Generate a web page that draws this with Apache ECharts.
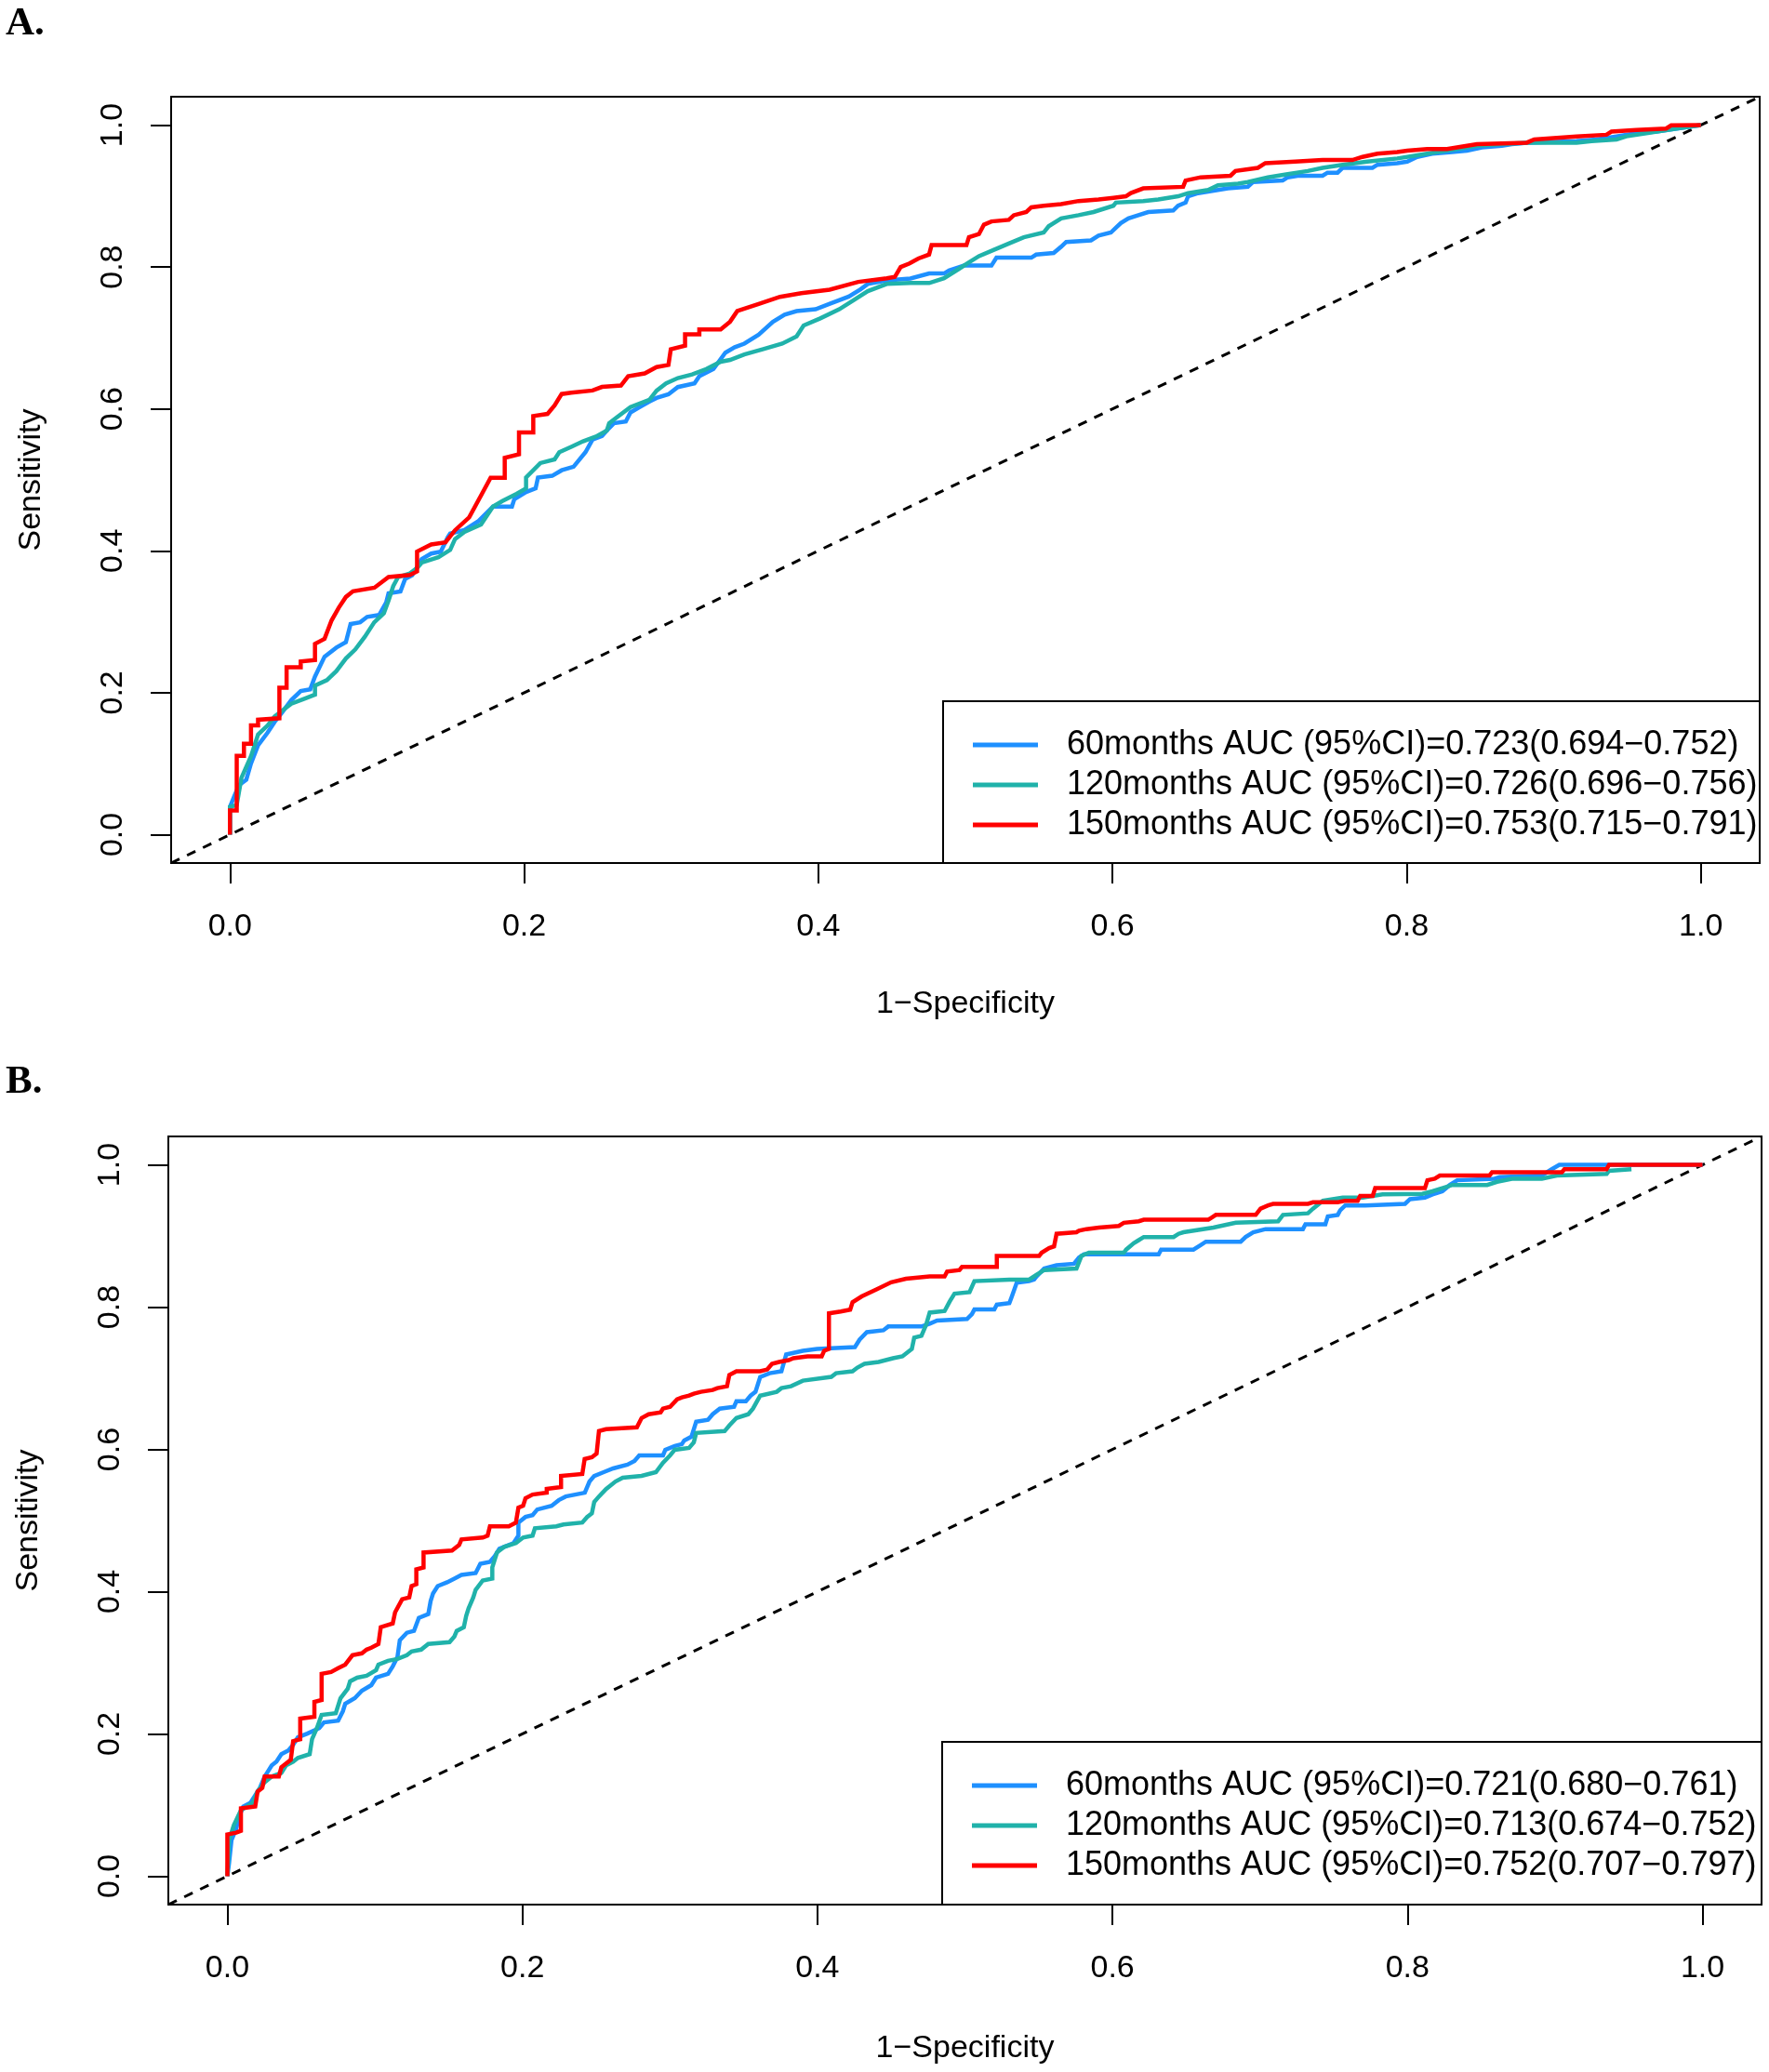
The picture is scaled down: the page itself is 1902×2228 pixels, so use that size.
<!DOCTYPE html>
<html>
<head>
<meta charset="utf-8">
<script src="https://cdn.jsdelivr.net/npm/echarts@6/dist/echarts.min.js"></script>
<style>
html,body{margin:0;padding:0;background:#fff;}
#chart{width:1902px;height:2228px;}
</style>
</head>
<body>
<div id="chart"></div>
<script>
// ---------- data ----------
const tickValues = [0, 0.2, 0.4, 0.6, 0.8, 1.0];
const axisMin = -0.04, axisMax = 1.04;
const panelLabels = ['A.', 'B.'];
const xTitle = '1\u2212Specificity';
const yTitle = 'Sensitivity';
const legendA = [
  '60months AUC (95%CI)=0.723(0.694\u22120.752)',
  '120months AUC (95%CI)=0.726(0.696\u22120.756)',
  '150months AUC (95%CI)=0.753(0.715\u22120.791)'
];
const legendB = [
  '60months AUC (95%CI)=0.721(0.680\u22120.761)',
  '120months AUC (95%CI)=0.713(0.674\u22120.752)',
  '150months AUC (95%CI)=0.752(0.707\u22120.797)'
];
const refLine = [[-0.04, -0.04], [1.04, 1.04]];

const blueA = [[0,0],[0,0.039],[0.0030,0.0545],[0.0062,0.0698],[0.0111,0.0774],[0.0143,0.1004],[0.0191,0.1259],[0.0256,0.1438],[0.0304,0.1590],[0.0353,0.1718],[0.0417,0.1896],[0.0481,0.2024],[0.0546,0.2049],[0.0578,0.2228],[0.0643,0.2508],[0.0723,0.2636],[0.0788,0.2713],[0.0820,0.2968],[0.0885,0.2993],[0.0933,0.3069],[0.1014,0.3095],[0.1062,0.3273],[0.1078,0.3401],[0.1159,0.3426],[0.1191,0.3605],[0.1239,0.3656],[0.1304,0.3885],[0.1368,0.3962],[0.1433,0.3987],[0.1481,0.4191],[0.1497,0.4242],[0.1594,0.4293],[0.1691,0.4421],[0.1788,0.4624],[0.1917,0.4624],[0.1933,0.4727],[0.2013,0.4829],[0.2078,0.4880],[0.2094,0.5033],[0.2191,0.5058],[0.2255,0.5135],[0.2336,0.5186],[0.2417,0.5390],[0.2465,0.5568],[0.2529,0.5619],[0.2562,0.5696],[0.2610,0.5798],[0.2691,0.5823],[0.2723,0.5951],[0.2787,0.6027],[0.2852,0.6104],[0.2900,0.6155],[0.2981,0.6206],[0.3045,0.6308],[0.3158,0.6359],[0.3191,0.6461],[0.3287,0.6562],[0.3368,0.6792],[0.3432,0.6869],[0.3497,0.6920],[0.3594,0.7047],[0.3691,0.7226],[0.3771,0.7328],[0.3852,0.7379],[0.3981,0.7404],[0.4078,0.7481],[0.4207,0.7583],[0.4287,0.7685],[0.4336,0.7761],[0.4465,0.7812],[0.4626,0.7838],[0.4754,0.7909],[0.4855,0.7909],[0.4889,0.7953],[0.4991,0.8020],[0.5177,0.8020],[0.5211,0.8131],[0.5448,0.8131],[0.5481,0.8175],[0.5600,0.8197],[0.5651,0.8286],[0.5685,0.8353],[0.5854,0.8375],[0.5905,0.8442],[0.5989,0.8486],[0.6023,0.8553],[0.6057,0.8619],[0.6108,0.8686],[0.6176,0.8731],[0.6243,0.8775],[0.6413,0.8797],[0.6446,0.8864],[0.6497,0.8908],[0.6514,0.8997],[0.6582,0.9041],[0.6717,0.9086],[0.6785,0.9108],[0.6920,0.9130],[0.6954,0.9197],[0.7157,0.9219],[0.7191,0.9264],[0.7259,0.9286],[0.7428,0.9286],[0.7462,0.9330],[0.7530,0.9330],[0.7564,0.9397],[0.7767,0.9397],[0.7801,0.9441],[0.7936,0.9464],[0.8004,0.9486],[0.8071,0.9552],[0.8173,0.9597],[0.8308,0.9619],[0.8410,0.9641],[0.8512,0.9686],[0.8647,0.9708],[0.8715,0.9730],[0.8817,0.9752],[0.9155,0.9775],[0.9290,0.9797],[0.9426,0.9841],[0.9561,0.9886],[0.9697,0.9908],[1,1]];

const tealA = [[0,0],[0,0.039],[0.0046,0.0418],[0.0078,0.0800],[0.0143,0.1106],[0.0191,0.1412],[0.0256,0.1539],[0.0304,0.1667],[0.0369,0.1769],[0.0417,0.1845],[0.0514,0.1922],[0.0578,0.1973],[0.0578,0.2100],[0.0659,0.2177],[0.0723,0.2304],[0.0788,0.2483],[0.0852,0.2610],[0.0917,0.2789],[0.0981,0.2993],[0.1046,0.3120],[0.1078,0.3299],[0.1110,0.3503],[0.1143,0.3630],[0.1223,0.3681],[0.1272,0.3758],[0.1304,0.3834],[0.1417,0.3911],[0.1497,0.4013],[0.1530,0.4166],[0.1594,0.4268],[0.1707,0.4370],[0.1788,0.4624],[0.1852,0.4701],[0.1949,0.4803],[0.2013,0.4880],[0.2013,0.5033],[0.2110,0.5237],[0.2207,0.5288],[0.2239,0.5390],[0.2320,0.5466],[0.2400,0.5543],[0.2497,0.5619],[0.2562,0.5696],[0.2578,0.5798],[0.2626,0.5874],[0.2723,0.6027],[0.2852,0.6129],[0.2900,0.6257],[0.2965,0.6359],[0.3045,0.6435],[0.3142,0.6486],[0.3239,0.6562],[0.3336,0.6665],[0.3400,0.6690],[0.3497,0.6767],[0.3626,0.6843],[0.3755,0.6920],[0.3852,0.7022],[0.3900,0.7175],[0.4013,0.7276],[0.4142,0.7404],[0.4239,0.7532],[0.4336,0.7659],[0.4465,0.7761],[0.4626,0.7775],[0.4754,0.7775],[0.4855,0.7842],[0.4957,0.7975],[0.5024,0.8064],[0.5092,0.8153],[0.5194,0.8242],[0.5295,0.8331],[0.5397,0.8420],[0.5532,0.8486],[0.5566,0.8575],[0.5651,0.8686],[0.5769,0.8731],[0.5871,0.8775],[0.6006,0.8864],[0.6023,0.8908],[0.6209,0.8930],[0.6311,0.8953],[0.6446,0.8997],[0.6514,0.9041],[0.6650,0.9086],[0.6717,0.9153],[0.6853,0.9175],[0.6920,0.9197],[0.7056,0.9264],[0.7191,0.9308],[0.7327,0.9353],[0.7428,0.9397],[0.7564,0.9441],[0.7733,0.9486],[0.7936,0.9530],[0.8071,0.9575],[0.8207,0.9619],[0.8342,0.9664],[0.8478,0.9708],[0.8647,0.9730],[0.8817,0.9752],[0.9155,0.9752],[0.9257,0.9775],[0.9426,0.9797],[0.9493,0.9841],[0.9629,0.9886],[0.9832,0.9952],[1,1]];

const redA = [[0,0],[0,0.034],[0.0046,0.034],[0.0046,0.111],[0.0095,0.111],[0.0095,0.128],[0.0143,0.128],[0.0143,0.154],[0.0191,0.154],[0.0191,0.162],[0.0336,0.164],[0.0336,0.207],[0.0385,0.207],[0.0385,0.236],[0.0481,0.236],[0.0481,0.244],[0.0578,0.246],[0.0578,0.269],[0.0643,0.276],[0.0691,0.302],[0.0740,0.320],[0.0788,0.335],[0.0836,0.343],[0.0982,0.348],[0.1078,0.363],[0.1223,0.366],[0.1272,0.371],[0.1272,0.399],[0.1368,0.409],[0.1465,0.412],[0.1530,0.429],[0.1626,0.447],[0.1707,0.478],[0.1772,0.503],[0.1868,0.503],[0.1868,0.531],[0.1965,0.536],[0.1965,0.567],[0.2062,0.567],[0.2062,0.590],[0.2159,0.593],[0.2207,0.605],[0.2255,0.621],[0.2320,0.623],[0.2465,0.626],[0.2529,0.631],[0.2658,0.633],[0.2707,0.646],[0.2820,0.650],[0.2900,0.659],[0.2981,0.662],[0.2997,0.684],[0.3094,0.689],[0.3094,0.705],[0.3191,0.705],[0.3191,0.712],[0.3336,0.712],[0.3400,0.723],[0.3449,0.738],[0.3594,0.748],[0.3739,0.758],[0.3884,0.763],[0.4077,0.768],[0.4271,0.779],[0.4465,0.784],[0.452,0.786],[0.456,0.800],[0.462,0.805],[0.468,0.812],[0.4753,0.8176],[0.4770,0.8308],[0.5007,0.8308],[0.5024,0.8419],[0.5092,0.8464],[0.5126,0.8597],[0.5177,0.8642],[0.5295,0.8664],[0.5329,0.8730],[0.5414,0.8775],[0.5448,0.8841],[0.5532,0.8864],[0.5650,0.8886],[0.5769,0.8930],[0.5905,0.8953],[0.6006,0.8975],[0.6091,0.8997],[0.6125,0.9042],[0.6209,0.9108],[0.6480,0.9130],[0.6497,0.9219],[0.6599,0.9264],[0.6802,0.9286],[0.6836,0.9353],[0.6988,0.9397],[0.7039,0.9464],[0.7242,0.9486],[0.7428,0.9508],[0.7631,0.9508],[0.7699,0.9552],[0.7801,0.9597],[0.7936,0.9619],[0.8004,0.9641],[0.8139,0.9663],[0.8274,0.9663],[0.8410,0.9708],[0.8478,0.9730],[0.8816,0.9752],[0.8867,0.9797],[0.9155,0.9841],[0.9358,0.9864],[0.9392,0.9908],[0.9561,0.9930],[0.9764,0.9952],[0.9798,0.9996],[1,1]];

const blueB = [[0,0],[0.0012,0.0192],[0.0028,0.0507],[0.0060,0.0664],[0.0076,0.0822],[0.0108,0.0979],[0.0157,0.1032],[0.0189,0.1137],[0.0221,0.1242],[0.0253,0.1400],[0.0269,0.1452],[0.0301,0.1557],[0.0333,0.1610],[0.0366,0.1715],[0.0414,0.1767],[0.0446,0.1846],[0.0478,0.1951],[0.0542,0.2004],[0.0623,0.2082],[0.0655,0.2161],[0.0751,0.2187],[0.0783,0.2319],[0.0799,0.2424],[0.0864,0.2502],[0.0912,0.2607],[0.0976,0.2686],[0.1008,0.2791],[0.1089,0.2844],[0.1121,0.2949],[0.1153,0.3080],[0.1169,0.3317],[0.1217,0.3422],[0.1265,0.3448],[0.1298,0.3631],[0.1362,0.3684],[0.1378,0.3868],[0.1394,0.3973],[0.1426,0.4078],[0.1490,0.4131],[0.1539,0.4183],[0.1587,0.4236],[0.1683,0.4262],[0.1715,0.4393],[0.1780,0.4419],[0.1812,0.4498],[0.1844,0.4603],[0.1940,0.4682],[0.1973,0.4787],[0.1973,0.4971],[0.2021,0.5050],[0.2069,0.5076],[0.2101,0.5155],[0.2198,0.5207],[0.2246,0.5286],[0.2294,0.5338],[0.2423,0.5391],[0.2455,0.5549],[0.2487,0.5627],[0.2551,0.5680],[0.2615,0.5732],[0.2712,0.5785],[0.2760,0.5837],[0.2792,0.5916],[0.2953,0.5916],[0.2969,0.5995],[0.3033,0.6047],[0.3081,0.6074],[0.3097,0.6126],[0.3146,0.6179],[0.3178,0.6389],[0.3258,0.6415],[0.3290,0.6494],[0.3338,0.6573],[0.3435,0.6599],[0.3451,0.6678],[0.3515,0.6678],[0.3547,0.6756],[0.3580,0.6809],[0.3612,0.7019],[0.3676,0.7071],[0.3756,0.7098],[0.3788,0.7334],[0.3901,0.7387],[0.3997,0.7413],[0.4254,0.7439],[0.4286,0.7544],[0.4335,0.7649],[0.4447,0.7675],[0.4480,0.7728],[0.4705,0.7728],[0.4761,0.7768],[0.4811,0.7812],[0.5014,0.7834],[0.5047,0.7901],[0.5064,0.7967],[0.5199,0.7967],[0.5216,0.8034],[0.5301,0.8056],[0.5317,0.8145],[0.5351,0.8344],[0.5435,0.8366],[0.5469,0.8388],[0.5486,0.8433],[0.5537,0.8543],[0.5621,0.8588],[0.5739,0.8610],[0.5773,0.8699],[0.5807,0.8743],[0.6313,0.8743],[0.6330,0.8809],[0.6549,0.8809],[0.6600,0.8876],[0.6633,0.8920],[0.6869,0.8920],[0.6903,0.8987],[0.6954,0.9053],[0.7038,0.9097],[0.7291,0.9097],[0.7308,0.9164],[0.7443,0.9164],[0.7460,0.9275],[0.7527,0.9297],[0.7544,0.9363],[0.7578,0.9430],[0.7713,0.9430],[0.7983,0.9452],[0.8017,0.9518],[0.8118,0.9541],[0.8169,0.9585],[0.8236,0.9629],[0.8287,0.9718],[0.8337,0.9784],[0.8590,0.9806],[0.8624,0.9828],[0.8911,0.9851],[0.8978,0.9939],[0.9029,1.0],[1,1]];

const tealB = [[0,0],[0.0012,0.0507],[0.0044,0.0717],[0.0092,0.0927],[0.0173,0.1032],[0.0205,0.1189],[0.0253,0.1321],[0.0301,0.1400],[0.0366,0.1452],[0.0398,0.1557],[0.0446,0.1610],[0.0478,0.1662],[0.0558,0.1715],[0.0574,0.1925],[0.0607,0.2082],[0.0639,0.2266],[0.0735,0.2292],[0.0767,0.2502],[0.0816,0.2634],[0.0832,0.2739],[0.0880,0.2791],[0.0944,0.2818],[0.1008,0.2896],[0.1024,0.2975],[0.1089,0.3028],[0.1153,0.3054],[0.1217,0.3106],[0.1249,0.3159],[0.1314,0.3185],[0.1362,0.3264],[0.1506,0.3290],[0.1539,0.3369],[0.1555,0.3448],[0.1603,0.3500],[0.1619,0.3658],[0.1635,0.3763],[0.1667,0.3920],[0.1683,0.4025],[0.1731,0.4157],[0.1796,0.4183],[0.1796,0.4341],[0.1828,0.4551],[0.1876,0.4629],[0.1956,0.4682],[0.2005,0.4761],[0.2069,0.4787],[0.2085,0.4892],[0.2230,0.4918],[0.2278,0.4944],[0.2406,0.4971],[0.2439,0.5050],[0.2471,0.5102],[0.2487,0.5260],[0.2519,0.5338],[0.2567,0.5443],[0.2631,0.5548],[0.2680,0.5601],[0.2808,0.5627],[0.2905,0.5680],[0.2953,0.5811],[0.3001,0.5916],[0.3033,0.5995],[0.3130,0.6021],[0.3162,0.6100],[0.3178,0.6231],[0.3371,0.6257],[0.3403,0.6336],[0.3451,0.6441],[0.3531,0.6494],[0.3563,0.6573],[0.3612,0.6756],[0.3724,0.6809],[0.3756,0.6861],[0.3821,0.6888],[0.3901,0.6966],[0.4094,0.7019],[0.4126,0.7071],[0.4238,0.7098],[0.4271,0.7150],[0.4319,0.7203],[0.4415,0.7229],[0.4512,0.7282],[0.4576,0.7308],[0.4640,0.7413],[0.4656,0.7570],[0.4705,0.7597],[0.4737,0.7754],[0.4761,0.7923],[0.4862,0.7945],[0.4896,0.8078],[0.4929,0.8189],[0.5031,0.8211],[0.5064,0.8366],[0.5301,0.8388],[0.5435,0.8388],[0.5486,0.8455],[0.5537,0.8521],[0.5756,0.8543],[0.5790,0.8721],[0.5840,0.8765],[0.6077,0.8765],[0.6093,0.8809],[0.6144,0.8898],[0.6178,0.8942],[0.6212,0.8986],[0.6414,0.8986],[0.6448,0.9031],[0.6481,0.9053],[0.6684,0.9119],[0.6785,0.9164],[0.6836,0.9186],[0.7123,0.9208],[0.7156,0.9297],[0.7325,0.9319],[0.7359,0.9385],[0.7426,0.9496],[0.7561,0.9541],[0.7696,0.9541],[0.7831,0.9585],[0.8101,0.9594],[0.8169,0.9629],[0.8236,0.9673],[0.8304,0.9718],[0.8540,0.9718],[0.8607,0.9762],[0.8708,0.9806],[0.8911,0.9806],[0.9012,0.9851],[0.9350,0.9873],[0.9366,0.9917],[0.9518,0.9939]];

const redB = [[0,0],[0,0.0585],[0.0060,0.0612],[0.0092,0.0638],[0.0092,0.0953],[0.0189,0.0979],[0.0205,0.1189],[0.0237,0.1242],[0.0253,0.1400],[0.0349,0.1400],[0.0366,0.1531],[0.0430,0.1636],[0.0446,0.1899],[0.0494,0.1925],[0.0494,0.2214],[0.0590,0.2240],[0.0590,0.2450],[0.0639,0.2476],[0.0639,0.2844],[0.0703,0.2870],[0.0751,0.2923],[0.0799,0.2975],[0.0848,0.3106],[0.0912,0.3133],[0.0944,0.3185],[0.0976,0.3211],[0.1024,0.3264],[0.1040,0.3500],[0.1121,0.3553],[0.1137,0.3710],[0.1185,0.3894],[0.1233,0.3920],[0.1249,0.4078],[0.1281,0.4104],[0.1281,0.4314],[0.1330,0.4340],[0.1330,0.4550],[0.1523,0.4577],[0.1571,0.4656],[0.1587,0.4734],[0.1732,0.4761],[0.1764,0.4787],[0.1780,0.4918],[0.1908,0.4918],[0.1956,0.4971],[0.1973,0.5181],[0.2005,0.5207],[0.2021,0.5312],[0.2069,0.5365],[0.2165,0.5391],[0.2165,0.5444],[0.2262,0.5470],[0.2262,0.5627],[0.2406,0.5654],[0.2422,0.5864],[0.2471,0.5890],[0.2503,0.5942],[0.2519,0.6258],[0.2567,0.6284],[0.2776,0.6310],[0.2808,0.6441],[0.2856,0.6494],[0.2937,0.6520],[0.2953,0.6573],[0.3001,0.6599],[0.3049,0.6704],[0.3081,0.6730],[0.3130,0.6756],[0.3162,0.6783],[0.3210,0.6809],[0.3290,0.6835],[0.3322,0.6861],[0.3387,0.6888],[0.3403,0.7045],[0.3451,0.7098],[0.3612,0.7098],[0.3660,0.7124],[0.3692,0.7203],[0.3740,0.7229],[0.3805,0.7255],[0.3837,0.7282],[0.3933,0.7308],[0.4029,0.7308],[0.4046,0.7387],[0.4078,0.7413],[0.4078,0.7912],[0.4158,0.7938],[0.4222,0.7964],[0.4238,0.8069],[0.430,0.815],[0.440,0.825],[0.450,0.835],[0.460,0.840],[0.4761,0.8433],[0.4862,0.8433],[0.4879,0.8499],[0.4963,0.8521],[0.4980,0.8566],[0.5216,0.8566],[0.5216,0.8721],[0.5503,0.8721],[0.5520,0.8765],[0.5570,0.8831],[0.5604,0.8854],[0.5621,0.9031],[0.5756,0.9053],[0.5773,0.9075],[0.5823,0.9097],[0.5908,0.9119],[0.6043,0.9142],[0.6077,0.9186],[0.6178,0.9208],[0.6212,0.9230],[0.6650,0.9230],[0.6667,0.9252],[0.6701,0.9297],[0.6971,0.9297],[0.7004,0.9385],[0.7055,0.9430],[0.7089,0.9452],[0.7325,0.9452],[0.7359,0.9474],[0.7527,0.9474],[0.7578,0.9496],[0.7662,0.9496],[0.7679,0.9563],[0.7764,0.9563],[0.7781,0.9673],[0.8118,0.9673],[0.8135,0.9784],[0.8185,0.9806],[0.8219,0.9851],[0.8556,0.9851],[0.8573,0.9895],[0.9046,0.9895],[0.9063,0.9939],[0.9349,0.9939],[0.9366,1.0],[1,1]];

// ---------- styling ----------
const COLORS = ['#1E90FF', '#20B2AA', '#FF0000'];
const FONT = "'Liberation Sans', Arial, Helvetica, sans-serif";
const grids = [
  {left: 184, top: 104, width: 1708, height: 824},
  {left: 181, top: 1222, width: 1713, height: 826}
];
const xNameGaps = [135, 138];

function xAxisFor(i) {
  return {
    gridIndex: i, type: 'value', min: axisMin, max: axisMax,
    axisLine: {show: false, onZero: false},
    splitLine: {show: false},
    axisTick: {show: true, inside: false, length: 22, customValues: tickValues,
               lineStyle: {color: '#000', width: 2}},
    axisLabel: {customValues: tickValues, margin: 52, fontSize: 34, color: '#000',
                fontFamily: FONT, formatter: v => v.toFixed(1)},
    name: xTitle, nameLocation: 'middle', nameGap: xNameGaps[i], nameMoveOverlap: false,
    nameTextStyle: {fontSize: 34, color: '#000', fontFamily: FONT}
  };
}
function yAxisFor(i) {
  return {
    gridIndex: i, type: 'value', min: axisMin, max: axisMax,
    axisLine: {show: false, onZero: false},
    splitLine: {show: false},
    axisTick: {show: true, inside: false, length: 22, customValues: tickValues,
               lineStyle: {color: '#000', width: 2}},
    axisLabel: {customValues: tickValues, margin: 45, fontSize: 34, color: '#000', rotate: 90,
                fontFamily: FONT, formatter: v => v.toFixed(1)},
    name: yTitle, nameLocation: 'middle', nameGap: 133, nameMoveOverlap: false,
    nameTextStyle: {fontSize: 34, color: '#000', fontFamily: FONT}
  };
}
function curve(name, data, color, gi) {
  return {
    type: 'line', name: name, data: data, xAxisIndex: gi, yAxisIndex: gi,
    showSymbol: false, symbol: 'none', animation: false, clip: true,
    color: color, itemStyle: {color: color},
    lineStyle: {color: color, width: 4.5, join: 'miter'}, z: 3
  };
}
function diagonal(gi) {
  return {
    type: 'line', data: refLine, xAxisIndex: gi, yAxisIndex: gi,
    showSymbol: false, symbol: 'none', animation: false, silent: true,
    lineStyle: {color: '#000', width: 3, type: [10, 9]}, z: 2
  };
}
function legendFor(names, left, top) {
  return {
    data: names, orient: 'vertical', left: left, top: top, padding: 0,
    icon: 'rect', itemWidth: 70, itemHeight: 5, itemGap: 7, selectedMode: false,
    textStyle: {fontSize: 36, color: '#000', fontFamily: FONT, padding: [0, 0, 0, 26]}
  };
}

const option = {
  backgroundColor: '#fff',
  animation: false,
  grid: grids.map(g => Object.assign({show: true, borderColor: '#000', borderWidth: 2,
                                      backgroundColor: 'transparent', containLabel: false,
                                      outerBoundsMode: 'none'}, g)),
  xAxis: [xAxisFor(0), xAxisFor(1)],
  yAxis: [yAxisFor(0), yAxisFor(1)],
  legend: [legendFor(legendA, 1046, 783), legendFor(legendB, 1045, 1902)],
  series: [
    diagonal(0),
    curve(legendA[0], blueA, COLORS[0], 0),
    curve(legendA[1], tealA, COLORS[1], 0),
    curve(legendA[2], redA, COLORS[2], 0),
    diagonal(1),
    curve(legendB[0], blueB, COLORS[0], 1),
    curve(legendB[1], tealB, COLORS[1], 1),
    curve(legendB[2], redB, COLORS[2], 1)
  ],
  graphic: [
    {type: 'rect', shape: {x: 1014, y: 754, width: 878, height: 174},
     style: {fill: 'none', stroke: '#000', lineWidth: 2}, z: 5, silent: true},
    {type: 'rect', shape: {x: 1013, y: 1873, width: 881, height: 175},
     style: {fill: 'none', stroke: '#000', lineWidth: 2}, z: 5, silent: true},
    {type: 'text', x: 6, y: 26, style: {text: panelLabels[0], fontSize: 43, fontWeight: 'bold',
     fontFamily: "'Liberation Serif', 'Times New Roman', serif", fill: '#000', verticalAlign: 'middle'}},
    {type: 'text', x: 6, y: 1164, style: {text: panelLabels[1], fontSize: 43, fontWeight: 'bold',
     fontFamily: "'Liberation Serif', 'Times New Roman', serif", fill: '#000', verticalAlign: 'middle'}}
  ]
};

const chart = echarts.init(document.getElementById('chart'), null, {renderer: 'canvas'});
chart.setOption(option);
</script>
</body>
</html>
